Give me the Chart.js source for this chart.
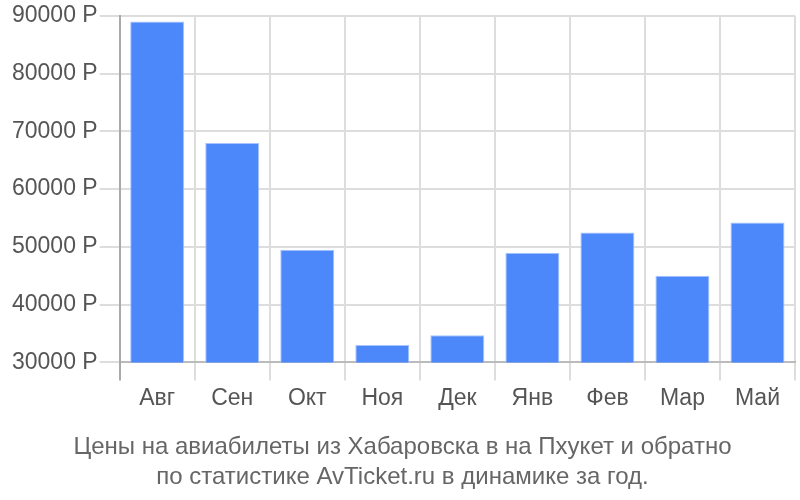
<!DOCTYPE html>
<html>
<head>
<meta charset="utf-8">
<script src="https://cdn.jsdelivr.net/npm/chart.js@4"></script>
<style>
  body { margin: 0; background: #fff; }
</style>
</head>
<body>
<canvas id="priceChart" width="800" height="500"></canvas>
<script>
/** цены по месяцам */
const months = ['Авг', 'Сен', 'Окт', 'Ноя', 'Дек', 'Янв', 'Фев', 'Мар', 'Май'];
const prices = [89000, 68000, 49500, 33000, 34700, 49000, 52500, 45000, 54200];
const yTicks = [30000, 40000, 50000, 60000, 70000, 80000, 90000];
const titleLines = [
  'Цены на авиабилеты из Хабаровска в на Пхукет и обратно',
  'по статистике AvTicket.ru в динамике за год.',
];

const font = { family: '"Liberation Sans", Arial, sans-serif', size: 23 };

const ctx = document.getElementById('priceChart').getContext('2d');
const priceChart = new Chart(ctx, {
  type: 'bar',
  data: {
    labels: months,
    datasets: [
      {
        data: prices,
        backgroundColor: '#4d88fb',
        borderColor: '#a8c4fd',
        borderWidth: 1,
        categoryPercentage: 0.72,
        barPercentage: 1,
      },
    ],
  },
  options: {
    responsive: false,
    animation: false,
    devicePixelRatio: 1,
    layout: {
      padding: { left: 10, right: 5, top: 1, bottom: 8 },
    },
    plugins: {
      legend: { display: false },
      tooltip: { enabled: false },
      title: {
        display: true,
        position: 'bottom',
        text: titleLines,
        color: '#666',
        font: { ...font, size: 24, weight: 'normal', lineHeight: 1.25 },
        padding: { top: 16, bottom: 0 },
      },
    },
    scales: {
      x: {
        grid: {
          offset: true,
          color: (c) => (c.index === 0 ? '#aaa' : '#ddd'),
          lineWidth: 2,
          tickLength: 18,
        },
        border: { display: true, color: '#bbb', width: 2 },
        ticks: { color: '#555', font: font, padding: 4, maxRotation: 0 },
      },
      y: {
        min: 30000,
        max: 90000,
        afterBuildTicks: (axis) => {
          axis.ticks = yTicks.map((v) => ({ value: v }));
        },
        grid: { color: '#ddd', lineWidth: 2, tickLength: 20 },
        border: { display: true, color: '#aaa', width: 2 },
        ticks: {
          color: '#555',
          font: font,
          padding: 2,
          callback: (v) => v + ' Р',
        },
      },
    },
  },
});
</script>
</body>
</html>
